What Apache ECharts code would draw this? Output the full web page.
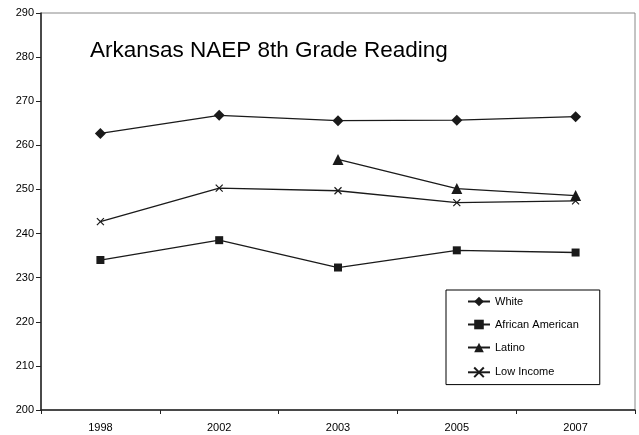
<!DOCTYPE html>
<html>
<head>
<meta charset="utf-8">
<title>Arkansas NAEP 8th Grade Reading</title>
<script src="https://cdn.jsdelivr.net/npm/echarts@6/dist/echarts.min.js"></script>
<style>
  html, body { margin: 0; padding: 0; background: #ffffff; }
  #chart { width: 639px; height: 435px; }
</style>
</head>
<body>
<div id="chart"></div>
<script>
// values
const years = ["1998", "2002", "2003", "2005", "2007"];
const white = [262.7, 266.8, 265.6, 265.7, 266.5];
const africanAmerican = [234.0, 238.5, 232.3, 236.2, 235.7];
const latino = ["-", "-", 256.8, 250.2, 248.6];
const lowIncome = [242.7, 250.3, 249.7, 247.0, 247.4];

const font = "Liberation Sans, Arial, sans-serif";
const crossPath = "path://M0,0L10,10M10,0L0,10";

function lineSeries(name, data, symbol, size, extra) {
  return Object.assign({
    name: name,
    type: "line",
    data: data,
    symbol: symbol,
    symbolSize: size,
    showAllSymbol: true,
    connectNulls: false,
    lineStyle: { color: "#1a1a1a", width: 1.3 },
    itemStyle: { color: "#1a1a1a" },
    emphasis: { disabled: true },
    animation: false
  }, extra || {});
}

const chart = echarts.init(document.getElementById("chart"));
chart.setOption({
  backgroundColor: "#ffffff",
  textStyle: { fontFamily: font },
  title: {
    text: "Arkansas NAEP 8th Grade Reading",
    left: 85,
    top: 34,
    textStyle: { fontSize: 22.5, fontWeight: "normal", color: "#000", fontFamily: font }
  },
  legend: {
    orient: "vertical",
    left: 446,
    top: 290,
    padding: [6, 21, 5, 21],
    itemWidth: 22,
    itemHeight: 12,
    itemGap: 12,
    borderColor: "#000",
    borderWidth: 1,
    textStyle: { fontSize: 11, color: "#000", fontFamily: font },
    data: ["White", "African American", "Latino", "Low Income"]
  },
  grid: {
    left: 41,
    right: 4,
    top: 13,
    bottom: 25,
    show: true,
    borderColor: "#888",
    borderWidth: 1
  },
  xAxis: {
    type: "category",
    data: years,
    boundaryGap: true,
    axisLine: { lineStyle: { color: "#222", width: 1.5 } },
    axisTick: { show: true, length: 4, lineStyle: { color: "#222" } },
    axisLabel: { color: "#000", fontSize: 11, margin: 12, fontFamily: font },
    splitLine: { show: false }
  },
  yAxis: {
    type: "value",
    min: 200,
    max: 290,
    interval: 10,
    axisLine: { show: true, lineStyle: { color: "#222", width: 1.5 } },
    axisTick: { show: true, length: 5, lineStyle: { color: "#222" } },
    axisLabel: { color: "#000", fontSize: 11, margin: 7, fontFamily: font },
    splitLine: { show: false }
  },
  series: [
    lineSeries("White", white, "diamond", 11),
    lineSeries("African American", africanAmerican, "rect", 8),
    lineSeries("Latino", latino, "triangle", 11),
    lineSeries("Low Income", lowIncome, crossPath, 7, {
      itemStyle: { color: "none", borderColor: "#1a1a1a", borderWidth: 1.2 }
    })
  ]
});
</script>
</body>
</html>
